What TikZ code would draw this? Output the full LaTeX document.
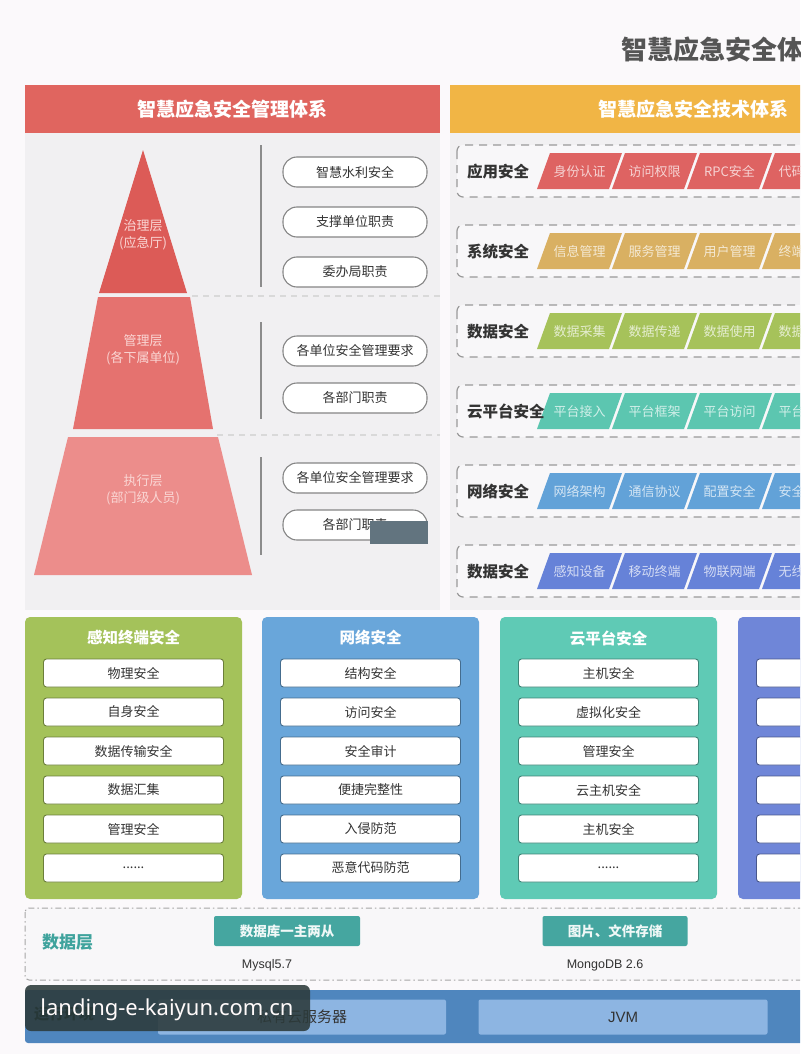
\documentclass[tikz,border=0pt]{standalone}
\usepackage{fontspec}
\setmainfont{Noto Sans CJK SC}
\newfontfamily\wmfont{Noto Sans}
\newfontfamily\latinfont{Liberation Sans}
\newcommand\mydots{......}
\begin{document}
\definecolor{pagebg}{HTML}{FBF9FB}
\definecolor{panelbg}{HTML}{F1F0F2}
\definecolor{rowbg}{HTML}{F8F7F9}
\definecolor{titlegray}{HTML}{555555}
\definecolor{mgmtred}{HTML}{E0655F}
\definecolor{techorange}{HTML}{F1B545}
\definecolor{pyrA}{HTML}{DC5B57}
\definecolor{pyrB}{HTML}{E5726F}
\definecolor{pyrC}{HTML}{EC8D8B}
\definecolor{pyrtext}{HTML}{FAD6D4}
\definecolor{rowA}{HTML}{DE6362}
\definecolor{rowB}{HTML}{D9B062}
\definecolor{rowC}{HTML}{A6C25A}
\definecolor{rowD}{HTML}{5CC6B0}
\definecolor{rowE}{HTML}{62A2D8}
\definecolor{rowF}{HTML}{6682D8}
\definecolor{blkA}{HTML}{A4C25A}
\definecolor{blkB}{HTML}{69A6DA}
\definecolor{blkC}{HTML}{5FCAB5}
\definecolor{blkD}{HTML}{6F86D8}
\definecolor{datateal}{HTML}{3FA39D}
\definecolor{boxteal}{HTML}{45A6A0}
\definecolor{runblue}{HTML}{4F86BE}
\definecolor{runbox}{HTML}{8DB5E2}
\definecolor{textdark}{HTML}{333333}
\definecolor{wmbg}{HTML}{2C3A3A}
\definecolor{wmsmall}{HTML}{62747F}
\begin{tikzpicture}[x=1pt,y=-1pt,
  every node/.style={inner sep=0pt, outer sep=0pt},
  hdr/.style={text=white, font=\bfseries\fontsize{19}{21}\selectfont},
  pyrlabel/.style={text=pyrtext, align=center, font=\fontsize{13}{16.5}\selectfont},
  pill/.style={draw=black!48, line width=1.1pt, fill=white, rounded corners=14pt,
    minimum width=144pt, minimum height=30pt, text=textdark, font=\fontsize{13}{15}\selectfont},
  rowbox/.style={draw=black!40, line width=1.2pt, dash pattern=on 8pt off 6pt, fill=rowbg, rounded corners=6pt},
  rowlabel/.style={anchor=west, text=textdark, font=\bfseries\fontsize{15.5}{17}\selectfont},
  paratext/.style={font=\fontsize{13}{14}\selectfont},
  blocktitle/.style={text=white, font=\bfseries\fontsize{15.5}{17}\selectfont},
  innerbox/.style={fill=white, rounded corners=3pt, line width=0.9pt,
    minimum width=180pt, minimum height=28pt, text=textdark, font=\fontsize{13}{15}\selectfont},
  vline/.style={draw=black!45, line width=1.5pt},
  sepline/.style={draw=black!15, line width=1.2pt, dash pattern=on 6pt off 5pt}
]
\useasboundingbox (0,0) rectangle (800,1054);
\clip (0,0) rectangle (800,1054);
\fill[pagebg] (0,0) rectangle (800,1054);

% main title (cut by the right edge)
\node[anchor=west, text=titlegray, font=\bfseries\fontsize{26}{28}\selectfont] (title) at (621,50) {智慧应急安全体系};

% ---------------- left panel ----------------
\fill[panelbg] (25,85) rectangle (440,610);
\fill[mgmtred] (25,85) rectangle (440,133);
\node[hdr] (lhdr) at (232,109) {智慧应急安全管理体系};

% pyramid
\fill[pyrA] (143,150) -- (187,293) -- (99,293) -- cycle;
\fill[pyrB] (98,297) -- (190,297) -- (213,429) -- (73,429) -- cycle;
\fill[pyrC] (68,437) -- (218,437) -- (252,575) -- (34,575) -- cycle;
\node[pyrlabel] (lay1) at (143,235) {治理层\\(应急厅)};
\node[pyrlabel] (lay2) at (143,350) {管理层\\(各下属单位)};
\node[pyrlabel] (lay3) at (143,490) {执行层\\(部门级人员)};

% separators
\draw[sepline] (192,296) -- (440,296);
\draw[sepline] (217,435) -- (440,435);
\draw[vline] (261,145) -- (261,287);
\draw[vline] (261,322) -- (261,419);
\draw[vline] (261,457) -- (261,555);

% duty pills
\node[pill] (d1) at (355,172) {智慧水利安全};
\node[pill] (d2) at (355,222) {支撑单位职责};
\node[pill] (d3) at (355,272) {委办局职责};
\node[pill] (d4) at (355,351) {各单位安全管理要求};
\node[pill] (d5) at (355,398) {各部门职责};
\node[pill] (d6) at (355,478) {各单位安全管理要求};
\node[pill] (d7) at (355,525) {各部门职责};
\fill[wmsmall] (370,521) rectangle (428,544);

% ---------------- right panel ----------------
\fill[panelbg] (450,85) rectangle (830,610);
\fill[techorange] (450,85) rectangle (830,133);
\node[hdr] (rhdr) at (693,109) {智慧应急安全技术体系};

\foreach \r/\lab/\col/\ta/\tb/\tc/\td [count=\k] in {
  145/应用安全/rowA/身份认证/访问权限/RPC安全/代码安全,
  225/系统安全/rowB/信息管理/服务管理/用户管理/终端管理,
  305/数据安全/rowC/数据采集/数据传递/数据使用/数据存储,
  385/云平台安全/rowD/平台接入/平台框架/平台访问/平台安全,
  465/网络安全/rowE/网络架构/通信协议/配置安全/安全审计,
  545/数据安全/rowF/感知设备/移动终端/物联网端/无线网络} {
  \draw[rowbox] (457,\r) rectangle (840,\r+52);
  \foreach \i/\t in {0/\ta,1/\tb,2/\tc,3/\td} {
    \fill[\col] (550+75*\i,\r+8) -- (622+75*\i,\r+8) -- (609+75*\i,\r+44) -- (537+75*\i,\r+44) -- cycle;
    \node[paratext, text=white!72!\col] (p\k\i) at (579.5+75*\i,\r+26.5) {\t};
  }
  \node[rowlabel] (lab\k) at (467,\r+26.5) {\lab};
}

% ---------------- bottom blocks ----------------
\foreach \x/\col/\ttl/\ia/\ib/\ic/\id/\ie/\iF [count=\k] in {
  25/blkA/感知终端安全/物理安全/自身安全/数据传输安全/数据汇集/管理安全/\mydots,
  262/blkB/网络安全/结构安全/访问安全/安全审计/便捷完整性/入侵防范/恶意代码防范,
  500/blkC/云平台安全/主机安全/虚拟化安全/管理安全/云主机安全/主机安全/\mydots,
  738/blkD/{}/{}/{}/{}/{}/{}/{}} {
  \fill[\col, rounded corners=5pt] (\x,617) rectangle (\x+217,899);
  \node[blocktitle] (bt\k) at (\x+108.5,638) {\ttl};
  \foreach \j/\t in {0/\ia,1/\ib,2/\ic,3/\id,4/\ie,5/\iF} {
    \node[innerbox, draw=\col!65!black] (ib\k\j) at (\x+108.5,673+39*\j) {\t};
  }
}

% ---------------- data layer ----------------
\draw[black!35, line width=1pt, dash pattern=on 6pt off 3pt on 1.5pt off 3pt, fill=rowbg, rounded corners=4pt] (25,908) rectangle (840,980);
\node[anchor=west, text=datateal, font=\bfseries\fontsize{17}{19}\selectfont] (dl) at (42,942) {数据层};
\node[fill=boxteal, rounded corners=2pt, minimum width=146pt, minimum height=30pt, text=white!92!boxteal, font=\bfseries\fontsize{13.5}{15}\selectfont] (db1) at (287,931) {数据库一主两从};
\node[text=textdark, font=\latinfont\fontsize{12.5}{14}\selectfont] (db1v) at (267,965) {Mysql5.7};
\node[fill=boxteal, rounded corners=2pt, minimum width=145pt, minimum height=30pt, text=white!92!boxteal, font=\bfseries\fontsize{13.5}{15}\selectfont] (db2) at (615,931) {图片、文件存储};
\node[text=textdark, font=\latinfont\fontsize{12.5}{14}\selectfont] (db2v) at (605,965) {MongoDB 2.6};

% ---------------- runtime layer ----------------
\fill[runblue, rounded corners=3pt] (25,990) rectangle (840,1043);
\node[anchor=west, text=black!70!teal, font=\bfseries\fontsize{15}{17}\selectfont] (rl) at (34,1014) {运行环境};
\node[fill=runbox, rounded corners=2pt, minimum width=288pt, minimum height=35pt, text=textdark, font=\fontsize{15}{17}\selectfont] (rt1) at (302,1017) {私有云服务器};
\node[fill=runbox, rounded corners=2pt, minimum width=289pt, minimum height=35pt, text=textdark, font=\latinfont\fontsize{15}{17}\selectfont] (rt2) at (623,1017) {JVM};

% watermark
\fill[wmbg, opacity=0.88, rounded corners=6pt] (25,985) rectangle (310,1031);
\node[text=white!92!pink, font=\wmfont\fontsize{22}{24}\selectfont] (wm) at (167,1010) {landing-e-kaiyun.com.cn};
\end{tikzpicture}
\end{document}
